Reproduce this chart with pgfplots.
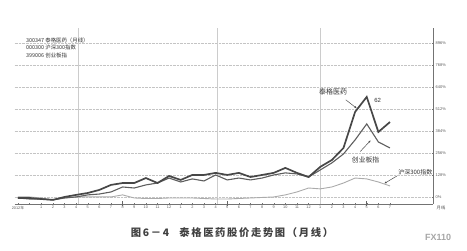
\documentclass[border=0pt]{standalone}
\usepackage{fontspec}
\setmainfont{Noto Sans CJK SC}
\newfontfamily\cjkf{Noto Sans CJK SC}
\newfontfamily\lat{Liberation Sans}
\newfontfamily\capfont{Noto Sans CJK SC}[LetterSpace=16]
\usepackage{pgfplots}
\usepackage{pgfplotstable}
\pgfplotsset{compat=1.18}
\usetikzlibrary{arrows.meta}

\definecolor{taigec}{HTML}{474747}
\definecolor{cybc}{HTML}{5e5e5e}
\definecolor{hsc}{HTML}{ababab}
\definecolor{gridc}{HTML}{c4c4c4}

% monthly change since the first month, in percent
\pgfplotstableread{
i  taige  cyb   hs
0   -6    -6    0
1   -6    -12   0
2   -12   -12   -6
3   -17   -17   -17
4    0    -6    -6
5    12    0     0
6    23    12    0
7    41    17    0
8    70    29    0
9    81    58    12
10   81    52   -6
11   110   70   -9
12   81    81   -9
13   122   110  -6
14   99    87   -6
15   128   105  -6
16   128   93   -9
17   140   128  -12
18   128   99   -12
19   140   110  -9
20   116   99   -6
21   128   110  -3
22   140   128   0
23   169   140   12
24   140   134   29
25   116   116   52
26   175   157   47
27   215   198   58
28   285   250   81
29   495   332   110
30   582   425   105
31   378   320   87
32   436   285   64
}\kdata

\begin{document}
\begin{tikzpicture}[x=1pt,y=1pt]
\path[use as bounding box] (0,0) rectangle (467,251);
\begin{axis}[
  at={(14.5pt,47pt)}, anchor=south west,
  scale only axis, width=418.5pt, height=176pt,
  xmin=-0.3, xmax=35.7, ymin=-41, ymax=983,
  axis x line=bottom, axis y line=right,
  axis line style={-, draw=black!55, line width=0.5pt},
  xtick={0,...,32},
  xticklabels={2012{\cjkf 年},,1,2,3,4,5,6,7,8,9,10,11,12,1,2,3,4,5,6,7,8,9,10,11,12,1,2,3,4,5,6,7},
  ytick={0,128,256,384,512,640,768,896},
  yticklabels={0\%,128\%,256\%,384\%,512\%,640\%,768\%,896\%},
  ymajorgrids,
  grid style={densely dotted, gridc, line width=0.4pt},
  tick style={black!55, line width=0.35pt},
  major tick length=2pt,
  extra x ticks={9,18,30},
  extra x tick labels={},
  extra x tick style={major tick length=5pt, tick style={black!60, line width=0.5pt}},
  xticklabel style={font=\lat\fontsize{3.8}{4}\selectfont, text=black!65, inner sep=1pt},
  yticklabel style={font=\lat\fontsize{4}{4.5}\selectfont, text=black!65, inner sep=1.5pt},
  clip=false,
]
  % year separators
  \draw[gray!40, line width=0.4pt] (axis cs:5.16,-41) -- (axis cs:5.16,983);
  \draw[gray!40, line width=0.4pt] (axis cs:17.1,-41) -- (axis cs:17.1,983);
  \draw[gray!40, line width=0.4pt] (axis cs:26,-41) -- (axis cs:26,983);

  \addplot[hsc, line width=0.9pt] table[x=i, y=hs] {\kdata};
  \addplot[cybc, line width=1.1pt] table[x=i, y=cyb] {\kdata};
  \addplot[taigec, line width=1.7pt] table[x=i, y=taige] {\kdata};

  % callouts
  \node[font=\fontsize{7}{7}\selectfont, text=black!80] at (axis cs:27.1,611) {泰格医药};
  \draw[black!70, line width=0.5pt, -{Latex[length=2.5pt,width=2pt]}] (axis cs:28.2,565) -- (axis cs:29.15,515);
  \node[font=\lat\fontsize{6}{6}\selectfont, text=black!80, anchor=west] at (axis cs:30.35,562) {62};
  \node[font=\fontsize{6.8}{7}\selectfont, text=black!80] at (axis cs:29.9,218) {创业板指};
  \draw[black!70, line width=0.5pt, -{Latex[length=2.5pt,width=2pt]}] (axis cs:29.45,265) -- (axis cs:30.35,330);
  \node[font=\fontsize{6}{6}\selectfont, text=black!80, anchor=west, inner sep=0pt] at (axis cs:32.7,145) {沪深300指数};
  \draw[black!70, line width=0.5pt, -{Latex[length=2.5pt,width=2pt]}] (axis cs:32.6,122) -- (axis cs:31.5,78);
\end{axis}

% series key
\node[anchor=west, font=\fontsize{5.4}{6}\selectfont, text=black!80, inner sep=0pt] at (26,211) {300347 泰格医药（月线）};
\node[anchor=west, font=\fontsize{5.4}{6}\selectfont, text=black!80, inner sep=0pt] at (26,203.5) {000300 沪深300指数};
\node[anchor=west, font=\fontsize{5.4}{6}\selectfont, text=black!80, inner sep=0pt] at (26,196) {399006 创业板指};

\node[font=\fontsize{4.3}{5}\selectfont, text=black!70, inner sep=0pt] at (441,43) {月线};

% caption
\node[font=\capfont\bfseries\fontsize{10.3}{11}\selectfont, text=black!75] at (232,18) {图\,6－4\quad 泰格医药股价走势图（月线）};

\node[font=\lat\bfseries\fontsize{9}{9}\selectfont, text=black!35, anchor=west, inner sep=0pt] at (425,14) {FX110};
\end{tikzpicture}
\end{document}
